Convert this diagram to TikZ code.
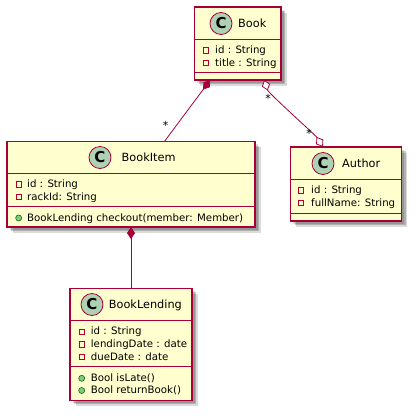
\documentclass[tikz,border=0pt]{standalone}
\usepackage{fontspec}
\setmainfont{DejaVu Sans}
\usepackage{xcolor}
\usepackage{tikz}
\usetikzlibrary{arrows.meta,shadows}
\definecolor{umlborder}{HTML}{A80036}
\definecolor{umlfill}{HTML}{FEFECE}
\definecolor{umlspot}{HTML}{ADD1B2}

\begin{document}
\begin{tikzpicture}[x=1pt,y=-1pt]
		\tikzstyle{class_box}=[draw=umlborder, fill=umlfill, line width=1.1pt, outer sep=0pt, inner sep=0pt,
			drop shadow={shadow xshift=2.5pt, shadow yshift=-2.5pt, fill=black, opacity=0.14},
			drop shadow={shadow xshift=4pt, shadow yshift=-4pt, fill=black, opacity=0.2},
			drop shadow={shadow xshift=5.5pt, shadow yshift=-5.5pt, fill=black, opacity=0.14}]
		\tikzstyle{spot}=[circle, draw=umlborder, fill=umlspot, line width=0.8pt, minimum size=22pt, inner sep=0pt, font=\fontsize{15}{15}\selectfont\bfseries]
		\tikzstyle{class_name}=[anchor=west, inner sep=0pt, text height=10pt, text depth=3pt, font=\fontsize{11.3}{14}\selectfont]
		\tikzstyle{member}=[anchor=west, inner sep=0pt, text height=8.5pt, text depth=2.5pt, font=\fontsize{10.2}{12}\selectfont]
		\tikzstyle{private}=[draw=umlborder!80!red, line width=0.8pt, minimum size=5.6pt, inner sep=0pt]
		\tikzstyle{public}=[circle, draw=green!45!black, fill=green!40!gray!70, line width=0.6pt, minimum size=6pt, inner sep=0pt]
		\tikzstyle{link}=[draw=umlborder, line width=0.8pt]
		\tikzstyle{divider}=[draw=umlborder, line width=0.9pt]
		\tikzstyle{mult}=[inner sep=0pt, font=\fontsize{11}{11}\selectfont]

		\useasboundingbox (0,0) rectangle (419,418);

		% classes
		\node (book) [class_box, minimum width=86.5pt, minimum height=73pt] at (237.75,43.5) {};
		\node (item) [class_box, minimum width=248pt, minimum height=85.5pt] at (131,184.25) {};
		\node (author) [class_box, minimum width=111pt, minimum height=74pt] at (346,184) {};
		\node (lending) [class_box, minimum width=122pt, minimum height=112pt] at (131,344.25) {};

		% connectors
		\draw [link, {Diamond[length=12pt,width=8pt,fill=umlborder]}-] (book.233.6) -- (item.52.3);
		\draw [link, {Diamond[length=12pt,width=8pt,fill=umlborder]}-] (item.south) -- (lending.north);
		\draw [link, {Diamond[length=11pt,width=8.5pt,fill=white]}-{Diamond[length=12pt,width=8.5pt,fill=white]}] (book.306) .. controls +(72:14) and +(-122:14) .. (author.122.5);

		\node (mult1) [mult] at (165.5,125) {*};
		\node (mult2) [mult] at (268,98) {*};
		\node (mult3) [mult] at (309,133) {*};

		% Book
		\draw [divider] (book.west |- 0,39.5) -- (book.east |- 0,39.5);
		\draw [divider] (book.west |- 0,72) -- (book.east |- 0,72);
		\node (book_spot) [spot] at (221,23.5) {C};
		\node (book_name) [class_name] at (238,23.5) {Book};
		\node (book_p1) [private] at (206,50.3) {};
		\node (book_id) [member] at (215,50.3) {id : String};
		\node (book_p2) [private] at (206,63) {};
		\node (book_title) [member] at (215,63) {title : String};

		% BookItem
		\draw [divider] (item.west |- 0,173) -- (item.east |- 0,173);
		\draw [divider] (item.west |- 0,206) -- (item.east |- 0,206);
		\node (item_spot) [spot] at (100,157.5) {C};
		\node (item_name) [class_name] at (121.5,157.5) {BookItem};
		\node (item_p1) [private] at (18.7,184.3) {};
		\node (item_id) [member] at (27,184.3) {id : String};
		\node (item_p2) [private] at (18.7,197) {};
		\node (item_rack) [member] at (27,197) {rackId: String};
		\node (item_m1) [public] at (18.7,218) {};
		\node (item_checkout) [member] at (27,218) {BookLending checkout(member: Member)};

		% Author
		\draw [divider] (author.west |- 0,179) -- (author.east |- 0,179);
		\draw [divider] (author.west |- 0,213) -- (author.east |- 0,213);
		\node (author_spot) [spot] at (323,163.5) {C};
		\node (author_name) [class_name] at (342,163.5) {Author};
		\node (author_p1) [private] at (301,190.3) {};
		\node (author_id) [member] at (311,190.3) {id : String};
		\node (author_p2) [private] at (301,203) {};
		\node (author_full) [member] at (311,203) {fullName: String};

		% BookLending
		\draw [divider] (lending.west |- 0,320) -- (lending.east |- 0,320);
		\draw [divider] (lending.west |- 0,366) -- (lending.east |- 0,366);
		\node (lending_spot) [spot] at (92,304.5) {C};
		\node (lending_name) [class_name] at (108.7,304.5) {BookLending};
		\node (lending_p1) [private] at (81.7,331.7) {};
		\node (lending_id) [member] at (90.7,331.7) {id : String};
		\node (lending_p2) [private] at (81.7,344.3) {};
		\node (lending_date) [member] at (90.7,344.3) {lendingDate : date};
		\node (lending_p3) [private] at (81.7,357) {};
		\node (lending_due) [member] at (90.7,357) {dueDate : date};
		\node (lending_m1) [public] at (81.7,378.3) {};
		\node (lending_late) [member] at (90.7,378.3) {Bool isLate()};
		\node (lending_m2) [public] at (81.7,390.5) {};
		\node (lending_return) [member] at (90.7,390.5) {Bool returnBook()};
	\end{tikzpicture}
\end{document}
